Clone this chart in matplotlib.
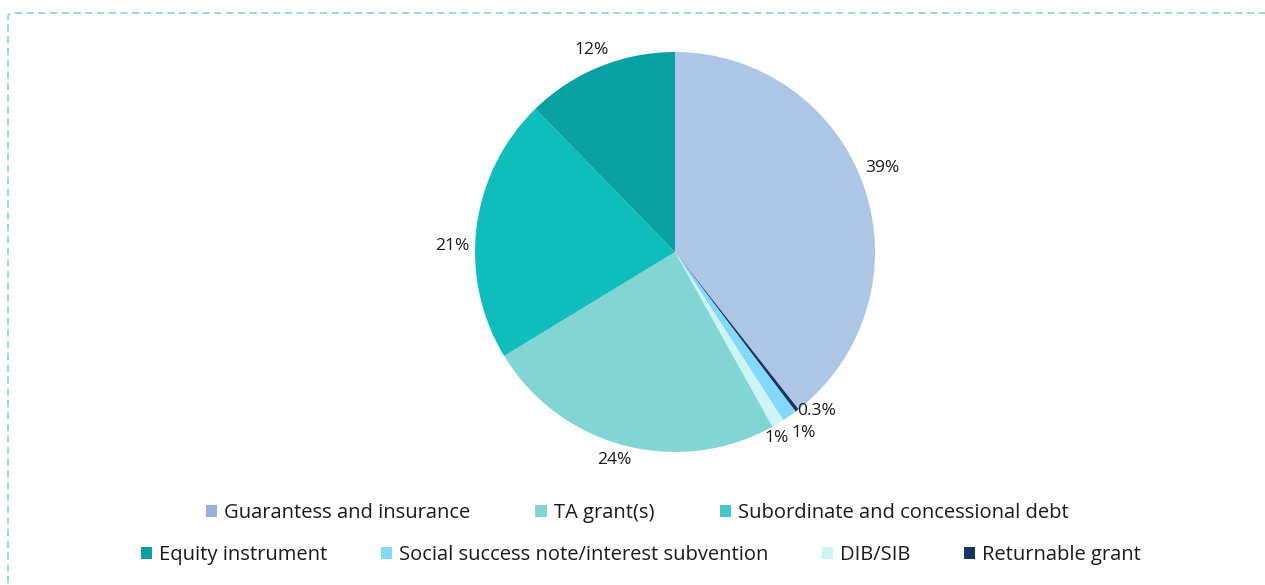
import numpy as np
import matplotlib.pyplot as plt
from matplotlib.patches import FancyBboxPatch, Patch

# slices, clockwise from 12 o'clock
slice_names = ["Guarantess and insurance", "Returnable grant",
               "Social success note/interest subvention", "DIB/SIB",
               "TA grant(s)", "Subordinate and concessional debt",
               "Equity instrument"]
slice_values = [39.4, 0.3, 1.2, 1.0, 24.4, 21.4, 12.3]
slice_colors = ["#adc6e6", "#1a3463", "#84d8fb", "#cdf5f5",
                "#82d5d4", "#0fbdbd", "#08a0a0"]

# legend rows as in the original
legend_row1 = ["Guarantess and insurance", "TA grant(s)",
               "Subordinate and concessional debt"]
legend_row2 = ["Equity instrument", "Social success note/interest subvention",
               "DIB/SIB", "Returnable grant"]
legend_colors = {"Guarantess and insurance": "#99b0dc",
                 "TA grant(s)": "#82d6d2",
                 "Subordinate and concessional debt": "#44c8c8",
                 "Equity instrument": "#0a9e9e",
                 "Social success note/interest subvention": "#84d8fb",
                 "DIB/SIB": "#cdf5f5",
                 "Returnable grant": "#1a3463"}

plt.rcParams['font.family'] = ['Open Sans', 'DejaVu Sans']

W, H = 1265, 585
fig = plt.figure(figsize=(W / 100, H / 100), dpi=100)

# dashed frame (runs off the right and bottom edges)
frame = FancyBboxPatch((8 / W, (H - 700) / H), 1300 / W, 687 / H,
                       boxstyle="round,pad=0,rounding_size=0.006",
                       transform=fig.transFigure, fill=False,
                       edgecolor="#8fd8d8", linewidth=1.3,
                       linestyle=(0, (4, 2.5)))
fig.patches.append(frame)

cx, cy, r = 675, 252, 200
ax = fig.add_axes([(cx - r) / W, (H - cy - r) / H, 2 * r / W, 2 * r / H])


def fmt(v):
    return "%.1f%%" % v if v < 1 else "%d%%" % round(v)


wedges, _ = ax.pie(slice_values, colors=slice_colors, startangle=90,
                   counterclock=False, radius=1.0,
                   wedgeprops=dict(linewidth=0))
ax.set_xlim(-1, 1)
ax.set_ylim(-1, 1)
ax.set_aspect('equal')
ax.axis('off')

# label distance (in radii) plus small nudges to match the original placement
label_dist = [1.12, 1.12, 1.12, 1.12, 1.09, 1.11, 1.1]
nudge = [(-0.02, 0.055), (0.026, 0.092), (0.0, 0.013), (-0.07, 0.03),
         (-0.025, 0.015), (-0.01, -0.11), (0.0, -0.01)]
for w, v, d, (nx, ny) in zip(wedges, slice_values, label_dist, nudge):
    ang = np.deg2rad((w.theta1 + w.theta2) / 2)
    x = d * np.cos(ang) + nx
    y = d * np.sin(ang) + ny
    ax.text(x, y, fmt(v), ha='center', va='center', fontsize=12.5,
            color='#1a1a1a', clip_on=False)

h1 = [Patch(facecolor=legend_colors[n], label=n) for n in legend_row1]
h2 = [Patch(facecolor=legend_colors[n], label=n) for n in legend_row2]
kw = dict(frameon=False, fontsize=14.5, handlelength=0.55, handleheight=0.55,
          handletextpad=0.35, loc='center', labelcolor='#1a1a1a')
fig.legend(handles=h1, ncol=3, columnspacing=3.25,
           bbox_to_anchor=(637 / W, 1 - 513 / H), **kw)
fig.legend(handles=h2, ncol=4, columnspacing=2.65,
           bbox_to_anchor=(641 / W, 1 - 555 / H), **kw)

fig.savefig("out.png", dpi=100)
